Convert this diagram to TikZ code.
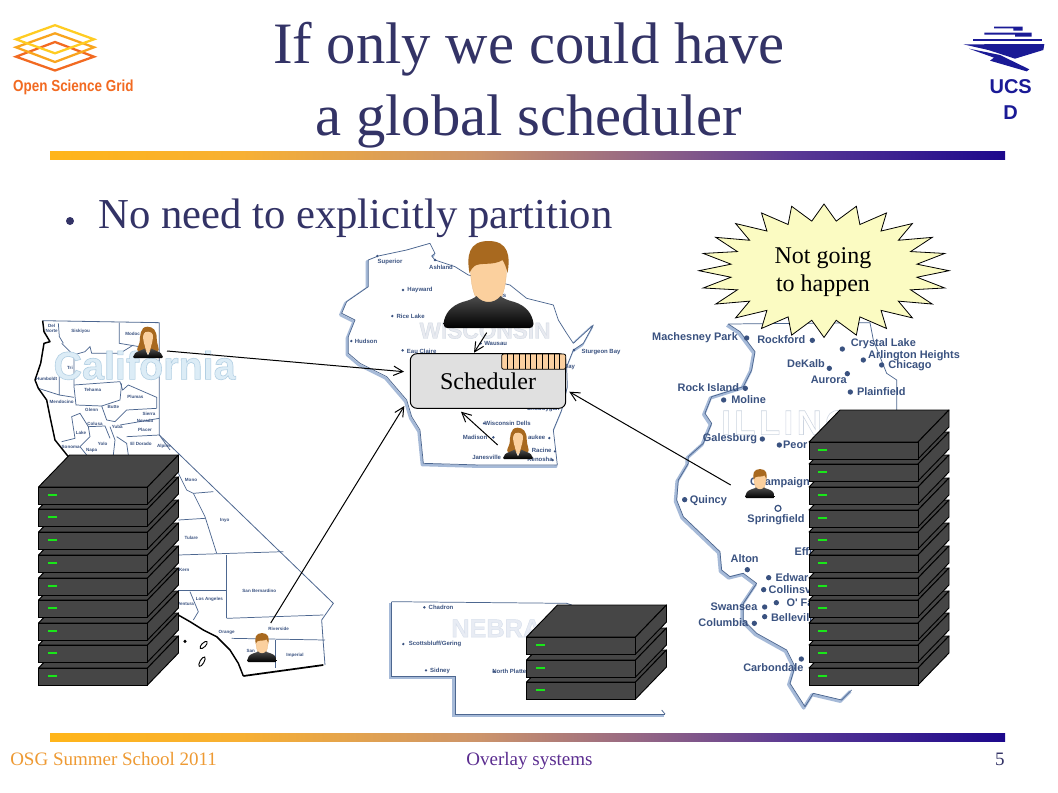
\documentclass[tikz,border=0pt]{standalone}
\usepackage{fontspec}
\setmainfont{Liberation Serif}
\newfontfamily\arialf{Liberation Sans}
\newfontfamily\arialw[LetterSpace=10]{Liberation Sans}
\usetikzlibrary{arrows.meta}
\definecolor{titlec}{HTML}{333366}
\definecolor{srvc}{HTML}{464646}
\definecolor{mapl}{HTML}{4D6790}
\definecolor{mapt}{HTML}{3A5280}
\definecolor{shadowc}{HTML}{A6BAD8}
\definecolor{skin}{HTML}{FBD09E}
\definecolor{hairc}{HTML}{A8691F}
\definecolor{peach}{HTML}{FBD0A0}
\definecolor{burstc}{HTML}{FBFBC2}
\definecolor{ledc}{HTML}{19E619}
\definecolor{ucsdc}{HTML}{1A1A96}
\definecolor{osgo}{HTML}{F26A21}
\definecolor{osgm}{HTML}{F9A51E}
\definecolor{osgy}{HTML}{FFCC22}
\definecolor{footo}{HTML}{EE9A33}
\definecolor{footv}{HTML}{5B2D90}
\definecolor{calwm}{HTML}{DCECF6}
\definecolor{wiswm}{HTML}{E8EAF0}
\definecolor{nebwm}{HTML}{E8ECF4}
\pgfdeclarehorizontalshading{barshade}{100bp}{
 rgb(0bp)=(1,.71,.1);
 rgb(25bp)=(1,.71,.1);
 rgb(35bp)=(.97,.69,.2);
 rgb(47.5bp)=(.80,.58,.42);
 rgb(56bp)=(.58,.40,.52);
 rgb(64bp)=(.35,.22,.58);
 rgb(75bp)=(.11,.03,.55);
 rgb(100bp)=(.11,.03,.55)}
\newcommand\outlined[3]{\special{pdf:code 2 Tr #1 w #2 RG}#3\special{pdf:code 0 Tr}}
\tikzset{
 conn/.style={line width=.75pt,-{Straight Barb[length=7pt,width=7pt,line width=.75pt]}},
 mapline/.style={mapl,line width=.55pt},
 coast/.style={black,line width=1.1pt},
 mlab/.style={font=\arialf\bfseries\fontsize{3.4}{4.2}\selectfont,text=mapt,align=center,inner sep=0},
 cityb/.style={font=\arialf\bfseries\fontsize{8.2}{9}\selectfont,text=mapt,inner sep=0},
 citys/.style={font=\arialf\bfseries\fontsize{4.5}{6}\selectfont,text=mapt,inner sep=0},
 wm/.style={inner sep=0,anchor=west},
 foot/.style={font=\fontsize{14.25}{16}\selectfont,inner sep=0},
 srvbox/.pic={
  \draw[fill=srvc,line width=.7pt,line join=round] (0,0) -- ++(31,-32) -- ++(109,0) -- ++(-31,32) -- cycle;
  \draw[fill=srvc,line width=.7pt,line join=round] (109,0) -- ++(31,-32) -- ++(0,17) -- ++(-31,32) -- cycle;
  \draw[fill=srvc,line width=.7pt] (0,0) rectangle (109,17);
  \fill[ledc] (9,7) rectangle (18,9);
 },
 maleperson/.pic={
  \draw[skin!70!brown,fill=skin,line width=.2pt] (-18,-60) .. controls (-18,-35) and (-10,-20) .. (0,-20) .. controls (10,-20) and (18,-35) .. (18,-60) -- (18,-75) -- (-18,-75) -- cycle;
  \shade[top color=black!70,bottom color=black] (-45,-4) .. controls (-44,-14) and (-38,-22) .. (-26,-26) .. controls (-18,-28) and (-14,-30) .. (-12,-32) .. controls (-6,-24) and (6,-24) .. (12,-32) .. controls (14,-30) and (18,-28) .. (26,-26) .. controls (38,-22) and (44,-14) .. (45,-4) .. controls (45,-1) and (43,0) .. (41,0) -- (-41,0) .. controls (-43,0) and (-45,-1) .. (-45,-4) -- cycle;
  \fill[hairc] (-19,-55) .. controls (-22,-72) and (-20,-87) .. (0,-87) .. controls (20,-87) and (22,-72) .. (19,-55) .. controls (18,-60) and (16,-65) .. (14,-68) .. controls (5,-62) and (-8,-66) .. (-14,-62) .. controls (-16,-60) and (-18,-58) .. (-19,-55) -- cycle;
 },
 femaleperson/.pic={
  \fill[hairc] (-2,-94) .. controls (-24,-94) and (-24,-65) .. (-25,-48) .. controls (-27,-36) and (-37,-28) .. (-30,-20) -- (30,-20) .. controls (36,-28) and (26,-40) .. (26,-60) .. controls (26,-82) and (16,-94) .. (-2,-94) -- cycle;
  \shade[top color=black!70,bottom color=black] (-45,-3) .. controls (-44,-12) and (-36,-18) .. (-24,-22) -- (-10,-28) -- (0,-8) -- (10,-28) -- (24,-22) .. controls (36,-18) and (44,-12) .. (45,-3) -- (42,0) -- (-42,0) -- cycle;
  \fill[skin] (-15,-70) .. controls (-15,-46) and (-8,-36) .. (-8,-30) -- (0,-10) -- (8,-30) .. controls (8,-36) and (15,-46) .. (15,-70) .. controls (14,-80) and (-12,-84) .. (-15,-70) -- cycle;
  \fill[hairc] (-15,-66) .. controls (-12,-80) and (-4,-84) .. (2,-84) .. controls (10,-82) and (15,-74) .. (16,-64) -- (19,-80) -- (0,-90) -- (-18,-80) -- cycle;
 }
}
\begin{document}
\begin{tikzpicture}[x=.75pt,y=-.75pt,line cap=butt]
\useasboundingbox (0,0) rectangle (1058,793);
\fill[white] (0,0) rectangle (1058,793);

% title
\node[font=\fontsize{44}{51.75}\selectfont,text=titlec,align=center,inner sep=0] (title) at (529,85.5) {If only we could have\\[2.2pt]a global scheduler};
\shade[shading=barshade] (50,151) rectangle (1005,159);
\shade[shading=barshade] (50,733) rectangle (1005,741);
\fill[titlec] (70,221) circle [radius=3pt];
\node[font=\fontsize{32}{36}\selectfont,text=titlec,anchor=base west,inner sep=0] (bullet) at (98,228) {No need to explicitly partition};

% footer
\node[foot,text=footo,anchor=base west] (footl) at (10,765) {OSG Summer School 2011};
\node[foot,text=footv,anchor=base] (footc) at (529.5,765) {Overlay systems};
\node[foot,text=titlec,anchor=base east] (footr) at (1005,765) {5};

% OSG logo
\begin{scope}[line width=1.7pt,line join=miter]
\draw[osgo] (16,56.7) -- (55,42) -- (94,56.7) -- (55,70.5) -- cycle;
\draw[osgm] (16,47.3) -- (55,33.3) -- (94,47.3) -- (55,62) -- cycle;
\draw[osgy] (16,39.3) -- (55,25.2) -- (94,39.3) -- (55,53.3) -- cycle;
\end{scope}
\node[font=\arialf\bfseries\fontsize{12}{13}\selectfont,text=osgo,inner sep=0,anchor=base west,xscale=.84,transform shape] (osg) at (13,91.5) {Open Science Grid};

% UCSD logo
\begin{scope}[shift={(950,10)},x=.25pt,y=-.25pt]
\fill[ucsdc] (132,50) rectangle (218,55) (190,55) rectangle (218,62);
\fill[ucsdc] (103,68) rectangle (245,74) (195,74) rectangle (245,80);
\fill[ucsdc] (68,88) rectangle (275,94);
\fill[ucsdc] (40,103) -- (283,102) -- (280,120) -- (195,146) -- (115,120) -- cycle;
\fill[ucsdc] (57,116) -- (150,135) -- (238,178) -- (230,184) -- (120,152) -- (132,143) -- cycle;
\end{scope}
\node[font=\arialf\bfseries\fontsize{15}{18.9}\selectfont,text=ucsdc,align=center,inner sep=0] (ucsd) at (1010.7,99.5) {UCS\\D};

% California map
\begin{scope}[shift={(0,300)},x=.25pt,y=-.25pt]
\draw[mapline,line width=.6pt] (128,62) -- (478,68) -- (478,405) -- (1000,910) -- (965,960) -- (970,1030) -- (975,1095);
\draw[mapline] (175,70) -- (178,110) -- (190,130);
\draw[mapline] (358,68) -- (358,130) -- (478,150);
\draw[mapline] (185,130) -- (220,165) -- (255,155) -- (270,140) -- (275,160) -- (360,160) -- (400,135);
\draw[mapline] (178,170) -- (178,285) -- (115,265) (178,285) -- (222,292);
\draw[mapline] (222,165) -- (222,260) -- (228,315) -- (305,318);
\draw[mapline] (222,255) -- (360,245) -- (368,270) -- (385,255) -- (470,292) -- (470,325);
\draw[mapline] (365,250) -- (360,300) -- (305,318) -- (320,360) -- (345,365) -- (380,330) -- (470,325);
\draw[mapline] (360,375) -- (478,355);
\draw[mapline] (185,425) -- (225,415) -- (215,350) -- (240,340) -- (265,380) -- (315,378) -- (330,415);
\draw[mapline] (265,380) -- (270,410) -- (240,440) -- (260,465);
\draw[mapline] (330,380) -- (345,420) -- (340,465);
\draw[mapline] (350,410) -- (380,430) -- (385,465);
\draw[mapline] (380,410) -- (478,405) (478,405) -- (510,450);
\draw[mapline] (535,520) -- (560,570) -- (580,580) -- (640,575);
\draw[mapline] (580,580) -- (615,650) -- (650,760);
\draw[mapline] (535,660) -- (615,655);
\draw[mapline] (535,765) -- (850,755);
\draw[mapline] (680,765) -- (680,955);
\draw[mapline] (535,870) -- (680,870);
\draw[mapline] (570,875) -- (595,935) -- (580,960);
\draw[mapline] (680,955) -- (970,945);
\draw[mapline] (695,1015) -- (975,1020);
\draw[mapline] (825,1020) -- (825,1105);
\draw[coast,line join=round] (128,62) -- (132,95) -- (150,125) -- (132,130) -- (122,190) -- (105,240) -- (115,265) -- (140,300) -- (150,350) -- (165,420) -- (205,470);
\draw[coast,line join=round] (535,945) -- (570,965) -- (610,990) -- (650,1010) -- (690,1050) -- (715,1090) -- (730,1128);
\draw[coast,line width=1.3pt] (730,1128) -- (970,1095);
\fill (555,1024) circle (5);
\draw[line width=.7pt,rotate around={45:(611,1035)}] (611,1035) ellipse (14 and 6);
\draw[line width=.7pt,rotate around={60:(606,1085)}] (606,1085) ellipse (16 and 6);
\foreach \x/\y/\t [count=\i] in {155/85/{Del\\Norte},242/94/Siskiyou,398/102/Modoc,210/205/Tri,140/238/Humboldt,278/270/Tehama,406/290/Plumas,185/306/Mendocino,275/330/Glenn,340/320/Butte,285/373/Colusa,243/398/Lake,352/382/Yuba,447/342/Sierra,435/363/Nevada,435/390/Placer,212/441/Sonoma,275/452/Napa,308/433/Yolo,423/432/{El Dorado},492/440/Alpine,573/539/Mono,674/661/Inyo,574/714/Tulare,553/809/Kern,778/873/{San Bernardino},557/913/Ventura,628/898/{Los Angeles},680/996/Orange,836/987/Riverside,752/1053/San,885/1065/Imperial}
  \node[mlab] (cal\i) at (\x,\y) {\t};
\node[wm,font=\arialf\bfseries\fontsize{29.6}{30}\selectfont,text=calwm] (calwmk) at (160,196) {\outlined{0.45}{0.70 0.81 0.89}{California}};
\end{scope}

% Wisconsin map
\begin{scope}[shift={(340,230)},x=.25pt,y=-.25pt]
\def\wis{(85,90) -- (115,78) -- (200,60) -- (270,40) -- (285,70) -- (275,78) -- (285,90) -- (345,110) -- (385,135) -- (450,150) -- (510,165) -- (560,205) -- (640,225) -- (655,270) -- (680,310) -- (700,340) -- (760,285) -- (730,340) -- (700,360) -- (680,410) -- (682,470) -- (665,540) -- (640,600) -- (652,705) -- (420,705) -- (250,700) -- (240,600) -- (215,560) -- (200,510) -- (140,440) -- (60,400) -- (25,370) -- (25,320) -- (45,270) -- (5,250) -- (20,215) -- (85,170) -- cycle}
\draw[shadowc,line width=2pt,line join=round,xshift=-1pt,yshift=-1.2pt] \wis;
\draw[mapline,fill=white,line join=round] \wis;
\foreach \x/\y/\t [count=\i] in {150/96/Superior,303/112/Ashland,240/181/Hayward,212/259/{Rice Lake},78/334/Hudson,245/363/{Eau Claire},467/340/Wausau,783/366/{Sturgeon Bay},660/410/{Green Bay},610/538/Sheboygan,503/580/{Wisconsin Dells},405/622/Madison,590/622/aukee,605/661/Racine,440/681/Janesville,600/689/Kenosha,488/197/us}
  \node[citys] (wis\i) at (\x,\y) {\t};
\foreach \x/\y in {112/78,285/90,189/180,157/258,34/333,188/361,422/340,702/360,432/580,460/622,628/624,645/664,638/690}
  \fill[mapt] (\x,\y) circle (4);
\node[wm,font=\arialf\bfseries\fontsize{17}{18}\selectfont,text=wiswm] (wiswmk) at (238,302) {\outlined{0.3}{0.82 0.85 0.89}{WISCONSIN}};
\end{scope}

% Illinois map
\begin{scope}[shift={(640,200)},x=.25pt,y=-.25pt]
\def\ilw{(265,372) -- (300,395) -- (345,455) -- (335,510) -- (310,560) -- (215,590) -- (195,640) -- (215,670) -- (190,730) -- (145,770) -- (145,790) -- (115,840) -- (110,900) -- (130,950) -- (240,1055) -- (245,1110) -- (270,1130) -- (310,1120) -- (350,1150) -- (310,1210) -- (310,1260) -- (350,1300) -- (440,1350) -- (465,1400) -- (450,1450) -- (495,1520) -- (520,1480) -- (605,1500) -- (635,1470)}
\draw[shadowc,line width=2.4pt,line join=round,xshift=-1pt,yshift=-1pt] \ilw;
\draw[mapline,line join=round] \ilw;
\draw[mapline] (265,372) -- (690,368) -- (700,420) -- (740,520) -- (770,540) -- (770,640);
\foreach \x/\y/\t [count=\i] in {165/414/{Machesney Park},424/418/Rockford,730/430/{Crystal Lake},822/466/{Arlington Heights},810/498/Chicago,498/490/DeKalb,566/540/Aurora,724/576/Plainfield,205/564/{Rock Island},326/600/Moline,270/717/Galesburg,466/735/Peor,420/847/Champaign,205/902/Quincy,408/960/Springfield,490/1055/Effi,314/1076/Alton,456/1132/Edwar,450/1170/Collinsv,480/1207/{O' Fa},282/1219/Swansea,455/1252/Bellevill,250/1267/Columbia,400/1402/Carbondale}
  \node[cityb] (ill\i) at (\x,\y) {\t};
\foreach \x/\y in {320/414,517/421,607/447,670/480,725/495,568/505,622/521,631/576,316/565,251/600,367/717,418/735,134/899,322/1109,386/1133,371/1169,409/1208,374/1221,374/1250,343/1270,484/1377}
  \fill[mapt] (\x,\y) circle (8);
\draw[mapt,line width=.9pt] (414,925) circle (9);
\node[wm,font=\arialw\bfseries\fontsize{26}{27}\selectfont,text=white] (illwm) at (243,668) {\outlined{0.4}{0.80 0.83 0.88}{ILLINOIS}};
\end{scope}

% Nebraska map
\begin{scope}[shift={(380,590)},x=.25pt,y=-.25pt]
\def\neb{(35,35) -- (35,258) -- (225,258) -- (225,372) -- (855,372)}
\draw[shadowc,line width=2.4pt,xshift=-1pt,yshift=-1pt] \neb;
\draw[mapline] (855,372) -- (845,360);
\draw[mapline] \neb;
\draw[mapline] (35,35) -- (560,40) -- (575,45);
\foreach \x/\y/\t [count=\i] in {183/53/Chadron,165/162/{Scottsbluff/Gering},180/243/Sidney,388/245/{North Platte}}
  \node[citys] (neb\i) at (\x,\y) {\t};
\foreach \x/\y in {133/52,70/162,138/241,342/245}
  \fill[mapt] (\x,\y) circle (4);
\node[wm,font=\arialf\bfseries\fontsize{19}{20}\selectfont,text=nebwm] (nebwmk) at (213,115) {\outlined{0.3}{0.84 0.87 0.92}{NEBRASKA}};
\end{scope}

% servers
\foreach \y in {668,645,623,600,578,555,532,509,487}
  \pic at (38.5,\y) {srvbox};
\foreach \y in {668,645,623,600,578,555,532,510,487,464,442}
  \pic at (809,\y) {srvbox};
\foreach \y in {682,660,637}
  \pic at (526.5,\y) {srvbox};

% people
\pic[scale=1] at (488.5,328) {maleperson};
\pic[scale=.333] at (148,358) {femaleperson};
\pic[scale=.333] at (518,459) {femaleperson};
\pic[scale=.333] at (262,662) {maleperson};
\pic[scale=.333] at (760,498) {maleperson};

% scheduler
\node[draw=black,fill=black!12,rounded corners=5pt,line width=.75pt,minimum width=116.5pt,minimum height=41pt,inner sep=0,font=\fontsize{18}{20}\selectfont] (sched) at (488,381) {Scheduler};
\draw[fill=peach,line width=.6pt,rounded corners=1.5pt] (501.7,354) rectangle (565.7,369.3);
\foreach \i in {1,...,10}
  \draw[line width=.5pt] (501.7+\i*5.8,354) -- (501.7+\i*5.8,369.3);

% burst
\draw[fill=burstc,line width=.6pt,line join=miter] (824+125,270.7)
  \foreach \a in {1,...,47}{
   -- ({824+(isodd(\a)?93.75:125)*cos(\a*7.5)},{270.7-(isodd(\a)?50:66.7)*sin(\a*7.5)})
  } -- cycle;
\node[font=\fontsize{18}{21}\selectfont,align=center,inner sep=0] (burst) at (823,272.5) {Not going\\to happen};

% connectors
\coordinate (a1s) at (167,351); \coordinate (a1e) at (404,371.7);
\coordinate (a2s) at (270.7,623); \coordinate (a2e) at (404.3,406);
\coordinate (a3s) at (497.7,445); \coordinate (a3e) at (461,411.7);
\coordinate (a4s) at (486.7,332.7); \coordinate (a4e) at (474,352.7);
\coordinate (a5s) at (730.7,485); \coordinate (a5e) at (569.3,391.7);
\draw[conn] (a1s) -- (a1e);
\draw[conn] (a2s) -- (a2e);
\draw[conn] (a3s) -- (a3e);
\draw[conn] (a4s) -- (a4e);
\draw[conn] (a5s) -- (a5e);
\end{tikzpicture}
\end{document}
